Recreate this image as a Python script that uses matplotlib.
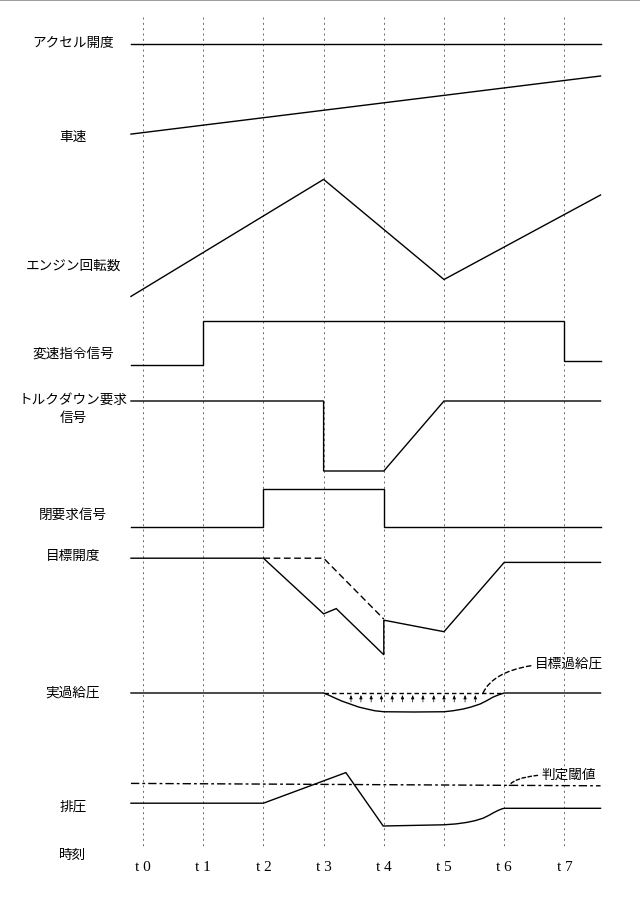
import matplotlib
matplotlib.use('Agg')
import matplotlib.pyplot as plt

plt.rcParams['font.family'] = ['Noto Sans CJK JP', 'DejaVu Sans']

# ---------------- data ----------------
tick_times = [0, 1, 2, 3, 4, 5, 6, 7]
tick_labels = ['t 0', 't 1', 't 2', 't 3', 't 4', 't 5', 't 6', 't 7']
T_START, T_END = -0.2, 7.6

accel_t = [T_START, T_END]
accel_v = [0.5, 0.5]

speed_t = [T_START, T_END]
speed_v = [0.07, 0.90]

engine_t = [T_START, 3, 5, T_END]
engine_v = [0.02, 0.92, 0.15, 0.80]

shift_t = [T_START, 1, 1, 7, 7, T_END]
shift_v = [0, 0, 1, 1, 0.1, 0.1]

torque_t = [T_START, 3, 3, 4, 5, T_END]
torque_v = [1, 1, 0, 0, 1, 1]

close_t = [T_START, 2, 2, 4, 4, T_END]
close_v = [0, 0, 1, 1, 0, 0]

opening_t = [T_START, 2, 3, 3.21, 4, 4, 5, 6, T_END]
opening_v = [0.96, 0.96, 0.43, 0.48, 0.04, 0.37, 0.26, 0.92, 0.92]
opening_target_t = [2, 3, 4]
opening_target_v = [0.96, 0.96, 0.38]

boost_t = [T_START, 3.0, 3.08, 3.16, 3.3, 3.44, 3.58, 3.72, 3.85, 4.0, 4.5,
           5.0, 5.15, 5.32, 5.45, 5.6, 5.7, 5.81, 5.9, 6.0, T_END]
boost_v = [0.84, 0.84, 0.76, 0.67, 0.52, 0.40, 0.28, 0.20, 0.13, 0.09, 0.08,
           0.09, 0.13, 0.20, 0.28, 0.40, 0.52, 0.67, 0.76, 0.84, 0.84]
boost_target_t = [3, 6]
boost_target_v = [0.84, 0.84]
arrow_t = [3.455, 3.62, 3.79, 3.96, 4.14, 4.31, 4.48, 4.65, 4.83, 5.0, 5.17, 5.35, 5.52]
arrow_from, arrow_to = 0.48, 0.76

exhaust_t = [T_START, 2, 3.37, 3.99, 5.0, 5.2, 5.38, 5.52, 5.65, 5.75, 5.82, 5.9, 5.96, 6.0, T_END]
exhaust_v = [0.43, 0.43, 0.94, 0.05, 0.07, 0.085, 0.11, 0.14, 0.18, 0.23, 0.27, 0.31, 0.335, 0.345, 0.345]
threshold_t = [T_START, T_END]
threshold_v = [0.76, 0.72]

labels = ['アクセル開度', '車速', 'エンジン回転数', '変速指令信号', 'トルクダウン要求',
          '信号', '閉要求信号', '目標開度', '実過給圧', '排圧', '時刻']

# ---------------- layout (pixels) ----------------
W, H, DPI = 640, 904, 100
X0_PX, DT_PX = 143.0, 60.2
xlim = (-X0_PX / DT_PX, (W - X0_PX) / DT_PX)

fig = plt.figure(figsize=(W / DPI, H / DPI), dpi=DPI)
fig.patch.set_facecolor('white')

bg = fig.add_axes([0, 0, 1, 1])
bg.set_xlim(*xlim)
bg.set_ylim(H, 0)
bg.axis('off')

# top border line
bg.axhline(0.8, color='#8a8a8a', lw=1.2)

# time grid lines
bg.vlines(tick_times, 18, 850, colors='#555555', linestyles=(0, (2.4, 4.0)), lw=0.6)

label_y = [43, 137, 266, 354, 400, 418, 515, 556, 693, 807, 855]
LABEL_X = (73 - X0_PX) / DT_PX
for txt, y in zip(labels, label_y):
    bg.text(LABEL_X, y, txt, ha='center', va='center', fontsize=9.8, color='black')

for t, lab in zip(tick_times, tick_labels):
    bg.text(t, 868, lab, ha='center', va='center', fontsize=11,
            family='Liberation Serif', color='black')


def row(top, bot):
    ax = fig.add_axes([0, 1 - bot / H, 1, (bot - top) / H])
    ax.set_xlim(*xlim)
    ax.set_ylim(0, 1)
    ax.axis('off')
    ax.patch.set_alpha(0)
    return ax


LW = 1.0
solid = dict(color='black', lw=LW, clip_on=False, solid_joinstyle='miter')

ax = row(35, 55)
ax.plot(accel_t, accel_v, **solid)

ax = row(70, 140)
ax.plot(speed_t, speed_v, **solid)

ax = row(170, 300)
ax.plot(engine_t, engine_v, **solid)

ax = row(322, 366)
ax.plot(shift_t, shift_v, **solid)

ax = row(402, 472)
ax.plot(torque_t, torque_v, **solid)

ax = row(490, 528)
ax.plot(close_t, close_v, **solid)

ax = row(555, 660)
ax.plot(opening_t, opening_v, **solid)
ax.plot(opening_target_t, opening_target_v, color='black', lw=LW,
        linestyle=(0, (4.8, 2.6)), clip_on=False)

ax = row(690, 715)
ax.plot(boost_t, boost_v, **solid)
ax.plot(boost_target_t, boost_target_v, color='black', lw=LW,
        linestyle=(0, (3.2, 2.2)), clip_on=False)
for t in arrow_t:
    ax.annotate('', xy=(t, arrow_to), xytext=(t, arrow_from),
                arrowprops=dict(arrowstyle='-|>,head_length=0.22,head_width=0.09',
                                lw=0.5, color='black', shrinkA=0, shrinkB=0),
                annotation_clip=False)
ax.annotate('目標過給圧', xy=((483 - X0_PX) / DT_PX, 0.84),
            xytext=((535 - X0_PX) / DT_PX, 2.04), ha='left', va='center',
            fontsize=9.8, annotation_clip=False,
            arrowprops=dict(arrowstyle='-', lw=LW, linestyle=(0, (3.2, 2.2)),
                            color='black', shrinkA=1, shrinkB=0,
                            connectionstyle='angle3,angleA=0,angleB=65'))

ax = row(770, 830)
ax.plot(exhaust_t, exhaust_v, **solid)
ax.plot(threshold_t, threshold_v, color='black', lw=LW,
        linestyle=(0, (6, 2.2, 2, 2.2)), clip_on=False)
ax.annotate('判定閾値', xy=((509.3 - X0_PX) / DT_PX, 0.725),
            xytext=((541.7 - X0_PX) / DT_PX, 0.917), ha='left', va='center',
            fontsize=9.8, annotation_clip=False,
            arrowprops=dict(arrowstyle='-', lw=LW, linestyle=(0, (2.6, 1.8)),
                            color='black', shrinkA=1, shrinkB=0,
                            connectionstyle='angle3,angleA=0,angleB=60'))

fig.savefig('out.png', dpi=DPI, facecolor='white')
